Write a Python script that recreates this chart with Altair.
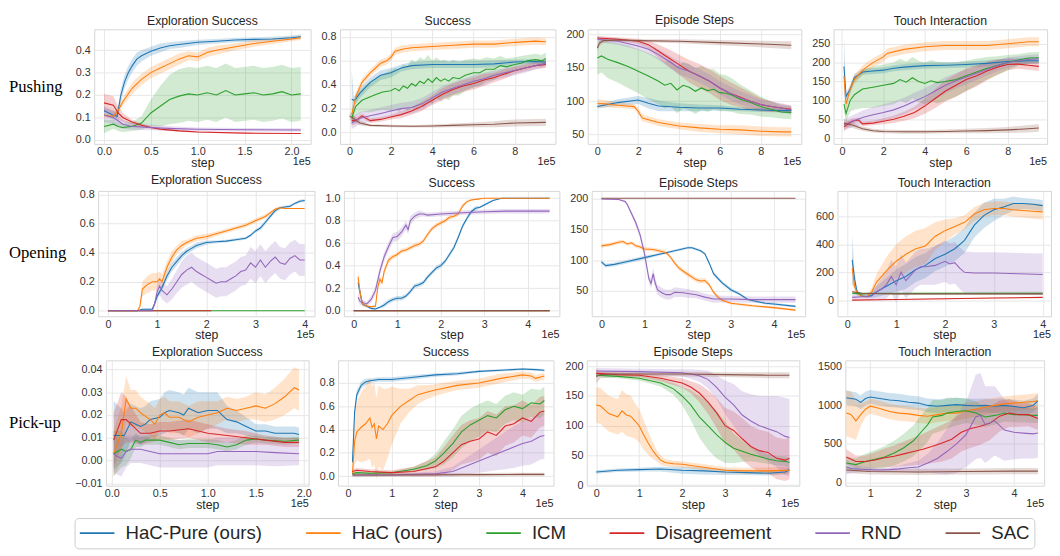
import altair as alt
import pandas as pd

METHODS = ["HaC-Pure (ours)", "HaC (ours)", "ICM", "Disagreement", "RND", "SAC"]
COLORS = ["#1f77b4", "#ff7f0e", "#2ca02c", "#d62728", "#9467bd", "#8c564b"]
KEYS = ["pure", "hac", "icm", "dis", "rnd", "sac"]
ROWS = ["Pushing", "Opening", "Pick-up"]

# ---------------- Pushing ----------------
PUSH_EXP = {
    "pure": dict(x=[0, 0.05, 0.1, 0.14, 0.18, 0.22, 0.26, 0.3, 0.35, 0.4, 0.5, 0.6, 0.7, 0.8, 1.0, 1.2, 1.4, 1.6, 1.8, 2.0, 2.1],
                 y=[0.13, 0.12, 0.11, 0.105, 0.2, 0.26, 0.3, 0.33, 0.36, 0.375, 0.395, 0.41, 0.42, 0.425, 0.435, 0.44, 0.445, 0.448, 0.45, 0.455, 0.46],
                 e=[0.02, 0.02, 0.02, 0.02, 0.03, 0.03, 0.03, 0.03, 0.03, 0.025, 0.02, 0.02, 0.015, 0.015, 0.012, 0.01, 0.01, 0.01, 0.01, 0.01, 0.01]),
    "hac": dict(x=[0, 0.1, 0.15, 0.2, 0.3, 0.4, 0.5, 0.6, 0.7, 0.8, 0.9, 1.0, 1.1, 1.2, 1.4, 1.6, 1.8, 2.0, 2.1],
                y=[0.11, 0.105, 0.13, 0.17, 0.23, 0.27, 0.3, 0.32, 0.34, 0.36, 0.375, 0.37, 0.39, 0.40, 0.415, 0.43, 0.44, 0.45, 0.455],
                e=[0.01, 0.01, 0.02, 0.02, 0.025, 0.025, 0.025, 0.025, 0.025, 0.025, 0.02, 0.02, 0.02, 0.02, 0.015, 0.015, 0.012, 0.01, 0.01]),
    "icm": dict(x=[0, 0.1, 0.15, 0.2, 0.3, 0.4, 0.5, 0.6, 0.7, 0.8, 0.9, 1.0, 1.1, 1.2, 1.3, 1.4, 1.5, 1.6, 1.7, 1.8, 1.9, 2.0, 2.1],
                y=[0.06, 0.07, 0.06, 0.055, 0.06, 0.075, 0.12, 0.15, 0.18, 0.195, 0.205, 0.2, 0.21, 0.2, 0.22, 0.2, 0.205, 0.21, 0.2, 0.205, 0.215, 0.2, 0.205],
                e=[0.03, 0.02, 0.02, 0.02, 0.02, 0.03, 0.06, 0.09, 0.11, 0.12, 0.12, 0.12, 0.12, 0.12, 0.12, 0.12, 0.12, 0.12, 0.12, 0.12, 0.12, 0.12, 0.12]),
    "dis": dict(x=[0, 0.1, 0.15, 0.2, 0.3, 0.4, 0.5, 0.6, 0.8, 1.0, 1.5, 2.1],
                y=[0.165, 0.155, 0.12, 0.1, 0.08, 0.065, 0.055, 0.048, 0.04, 0.035, 0.03, 0.028],
                e=[0.04, 0.04, 0.03, 0.02, 0.01, 0.008, 0.006, 0.005, 0.004, 0.003, 0.002, 0.002]),
    "rnd": dict(x=[0, 0.1, 0.15, 0.2, 0.3, 0.5, 0.75, 1.0, 1.5, 2.1],
                y=[0.11, 0.1, 0.085, 0.07, 0.06, 0.055, 0.05, 0.047, 0.045, 0.044],
                e=[0.03, 0.03, 0.025, 0.02, 0.015, 0.012, 0.01, 0.008, 0.008, 0.008]),
}

PUSH_SUC = {
    "pure": dict(x=[0.1, 0.2, 0.3, 0.5, 1.0, 1.5, 2.0, 2.5, 3.0, 4.0, 5.0, 6.0, 7.0, 8.0, 9.0, 9.5],
                 y=[0.28, 0.27, 0.28, 0.33, 0.42, 0.48, 0.5, 0.54, 0.56, 0.57, 0.57, 0.57, 0.575, 0.59, 0.595, 0.59],
                 e=[0.25, 0.03, 0.04, 0.04, 0.04, 0.04, 0.04, 0.03, 0.03, 0.03, 0.03, 0.03, 0.03, 0.02, 0.02, 0.02]),
    "hac": dict(x=[0.1, 0.2, 0.3, 0.6, 1.0, 1.5, 1.8, 2.0, 2.2, 2.6, 3.0, 4.0, 5.0, 6.0, 7.0, 8.0, 9.0, 9.5],
                y=[0.15, 0.22, 0.3, 0.42, 0.5, 0.58, 0.6, 0.63, 0.68, 0.7, 0.71, 0.72, 0.73, 0.74, 0.74, 0.755, 0.765, 0.76],
                e=[0.05, 0.05, 0.04, 0.03, 0.03, 0.03, 0.03, 0.03, 0.03, 0.03, 0.03, 0.03, 0.03, 0.03, 0.03, 0.03, 0.03, 0.03]),
    "icm": dict(x=[0.1, 0.3, 0.6, 1.0, 1.3, 1.6, 2.0, 2.2, 2.4, 2.6, 2.8, 3.0, 3.2, 3.4, 3.6, 3.8, 4.0, 4.2, 4.4, 4.6, 4.8, 5.0, 5.3, 5.6, 6.0, 6.3, 6.6, 7.0, 7.3, 7.6, 8.0, 8.3, 8.6, 9.0, 9.3, 9.5],
                y=[0.12, 0.22, 0.27, 0.3, 0.32, 0.34, 0.35, 0.37, 0.35, 0.39, 0.37, 0.41, 0.39, 0.43, 0.41, 0.45, 0.42, 0.46, 0.43, 0.45, 0.43, 0.46, 0.45, 0.48, 0.5, 0.5, 0.53, 0.53, 0.56, 0.55, 0.57, 0.58, 0.6, 0.61, 0.6, 0.62],
                e=[0.05, 0.08, 0.1, 0.13, 0.14, 0.15, 0.17, 0.17, 0.18, 0.18, 0.19, 0.2, 0.2, 0.2, 0.2, 0.2, 0.18, 0.17, 0.17, 0.16, 0.16, 0.15, 0.14, 0.13, 0.12, 0.11, 0.1, 0.09, 0.08, 0.07, 0.06, 0.06, 0.05, 0.05, 0.05, 0.05]),
    "dis": dict(x=[0.1, 0.3, 0.6, 1.0, 1.5, 2.0, 2.5, 3.0, 3.5, 4.0, 4.5, 5.0, 5.5, 6.0, 6.5, 7.0, 7.5, 8.0, 8.5, 9.0, 9.5],
                y=[0.1, 0.1, 0.14, 0.1, 0.11, 0.13, 0.15, 0.18, 0.22, 0.27, 0.32, 0.36, 0.39, 0.41, 0.44, 0.46, 0.49, 0.52, 0.54, 0.56, 0.57],
                e=[0.04, 0.03, 0.02, 0.02, 0.02, 0.02, 0.03, 0.03, 0.04, 0.04, 0.05, 0.05, 0.05, 0.05, 0.05, 0.04, 0.04, 0.03, 0.03, 0.03, 0.03]),
    "rnd": dict(x=[0.1, 0.5, 1.0, 1.5, 2.0, 2.5, 3.0, 3.5, 4.0, 4.5, 5.0, 5.5, 6.0, 6.5, 7.0, 7.5, 8.0, 8.5, 9.0, 9.5],
                y=[0.08, 0.12, 0.14, 0.16, 0.18, 0.2, 0.21, 0.24, 0.29, 0.34, 0.37, 0.4, 0.43, 0.45, 0.48, 0.5, 0.52, 0.54, 0.56, 0.58],
                e=[0.05, 0.05, 0.05, 0.05, 0.05, 0.05, 0.05, 0.05, 0.05, 0.05, 0.05, 0.05, 0.05, 0.05, 0.04, 0.04, 0.04, 0.04, 0.03, 0.03]),
    "sac": dict(x=[0, 0.5, 1.0, 2.0, 3.0, 4.0, 5.0, 6.0, 7.0, 8.0, 9.5],
                y=[0.14, 0.08, 0.06, 0.055, 0.052, 0.055, 0.06, 0.065, 0.07, 0.08, 0.085],
                e=[0.03, 0.02, 0.01, 0.01, 0.01, 0.012, 0.015, 0.02, 0.025, 0.03, 0.03]),
}

PUSH_STEPS = {
    "pure": dict(x=[0, 0.5, 1, 2, 2.5, 3, 4, 5, 6, 7, 8, 9, 9.5],
                 y=[92, 95, 98, 102, 97, 93, 91, 90, 90, 88, 87, 86, 86],
                 e=[3, 4, 5, 6, 8, 8, 6, 5, 4, 3, 3, 3, 3]),
    "hac": dict(x=[0, 0.5, 1, 1.8, 2.0, 2.2, 3, 4, 5, 6, 7, 8, 9, 9.5],
                y=[97, 96, 94, 92, 85, 75, 68, 63, 60, 58, 57, 55, 54, 54],
                e=[6, 5, 4, 4, 5, 5, 5, 5, 6, 6, 7, 7, 7, 7]),
    "icm": dict(x=[0, 0.2, 0.5, 1, 1.5, 2, 2.5, 3, 3.3, 3.6, 3.9, 4.2, 4.5, 4.8, 5.1, 5.4, 5.7, 6, 6.3, 6.6, 7, 7.5, 8, 8.5, 9, 9.5],
                y=[165, 168, 163, 158, 152, 145, 138, 130, 124, 127, 117, 124, 121, 115, 120, 116, 118, 113, 112, 109, 103, 98, 92, 88, 84, 83],
                e=[25, 25, 28, 30, 32, 33, 35, 35, 35, 35, 35, 35, 35, 34, 33, 32, 30, 28, 27, 25, 22, 18, 15, 12, 10, 10]),
    "dis": dict(x=[0, 1, 2, 2.5, 3, 3.5, 4, 4.5, 5, 5.5, 6, 6.5, 7, 7.5, 8, 8.5, 9, 9.5],
                y=[195, 193, 190, 185, 175, 165, 155, 145, 138, 130, 120, 112, 106, 100, 95, 92, 90, 88],
                e=[3, 3, 4, 6, 10, 13, 15, 17, 18, 18, 18, 17, 15, 13, 10, 8, 6, 5]),
    "rnd": dict(x=[0, 1, 2, 2.5, 3, 3.5, 4, 4.5, 5, 5.5, 6, 6.5, 7, 7.5, 8, 9, 9.5],
                y=[193, 190, 183, 178, 170, 160, 150, 145, 138, 130, 120, 112, 105, 100, 95, 90, 87],
                e=[4, 5, 6, 7, 8, 9, 10, 10, 10, 10, 10, 10, 10, 9, 8, 7, 7]),
    "sac": dict(x=[0, 0.1, 0.3, 1.0, 2.0, 4.0, 6.0, 8.0, 9.5],
                y=[180, 187, 191, 192, 191, 190, 188, 186, 184],
                e=[5, 4, 3, 2, 2, 3, 4, 5, 6]),
}

PUSH_TOUCH = {
    "pure": dict(x=[0.1, 0.2, 0.4, 0.6, 1.0, 1.5, 2, 2.5, 3, 4, 5, 6, 7, 8, 9, 9.5],
                 y=[190, 110, 130, 160, 175, 178, 180, 185, 188, 192, 193, 195, 198, 203, 205, 205],
                 e=[80, 10, 10, 10, 8, 8, 8, 8, 8, 8, 8, 8, 8, 8, 8, 8]),
    "hac": dict(x=[0.1, 0.2, 0.4, 0.6, 1.0, 1.5, 2.0, 2.2, 3, 4, 5, 6, 7, 8, 9, 9.5],
                y=[165, 90, 130, 155, 180, 200, 215, 225, 235, 242, 245, 245, 245, 250, 255, 255],
                e=[20, 15, 12, 12, 12, 12, 12, 12, 12, 12, 12, 12, 12, 12, 12, 12]),
    "icm": dict(x=[0.1, 0.2, 0.4, 0.6, 1.0, 1.5, 2.0, 2.5, 2.8, 3.1, 3.4, 3.7, 4.0, 4.3, 4.6, 5.0, 5.5, 6, 6.5, 7, 7.5, 8, 8.5, 9, 9.5],
                y=[90, 65, 100, 115, 130, 135, 140, 145, 155, 148, 160, 150, 145, 152, 147, 150, 155, 165, 175, 185, 192, 200, 207, 212, 213],
                e=[20, 20, 30, 40, 50, 55, 55, 55, 55, 55, 55, 55, 55, 55, 55, 50, 45, 40, 35, 30, 25, 20, 15, 15, 15]),
    "dis": dict(x=[0.1, 0.5, 0.8, 1.0, 1.5, 2.0, 2.5, 3, 3.5, 4, 4.5, 5, 5.5, 6, 6.5, 7, 7.5, 8, 8.5, 9, 9.5],
                y=[30, 45, 48, 38, 40, 45, 50, 58, 68, 85, 105, 125, 140, 155, 165, 178, 188, 195, 196, 193, 190],
                e=[10, 8, 6, 6, 6, 8, 10, 12, 15, 20, 25, 28, 30, 30, 28, 25, 20, 15, 12, 12, 12]),
    "rnd": dict(x=[0.1, 0.5, 1, 1.5, 2, 2.5, 3, 3.5, 4, 4.5, 5, 5.5, 6, 6.5, 7, 7.5, 8, 8.5, 9, 9.5],
                y=[35, 45, 55, 62, 68, 75, 85, 98, 110, 125, 140, 152, 162, 172, 182, 192, 200, 205, 208, 210],
                e=[15, 15, 18, 20, 22, 22, 22, 22, 22, 22, 22, 20, 20, 18, 16, 15, 14, 12, 12, 12]),
    "sac": dict(x=[0.1, 0.5, 1.0, 1.5, 2, 3, 4, 5, 6, 7, 8, 9, 9.5],
                y=[40, 35, 25, 20, 18, 17, 17, 18, 19, 20, 22, 25, 27],
                e=[10, 8, 6, 5, 5, 5, 5, 5, 6, 7, 8, 10, 10]),
}

# ---------------- Opening ----------------
OPEN_EXP = {
    "pure": dict(x=[0, 0.6, 0.7, 0.9, 0.95, 1.0, 1.1, 1.2, 1.3, 1.4, 1.5, 1.6, 1.7, 1.8, 2.0, 2.2, 2.4, 2.6, 2.8, 2.9, 3.0, 3.1, 3.2, 3.3, 3.4, 3.5, 3.6, 3.7, 3.8, 3.9, 4.0],
                 y=[0, 0, 0.01, 0.01, 0.05, 0.1, 0.16, 0.24, 0.3, 0.34, 0.38, 0.41, 0.43, 0.45, 0.47, 0.475, 0.48, 0.49, 0.5, 0.52, 0.55, 0.57, 0.61, 0.65, 0.69, 0.71, 0.715, 0.72, 0.74, 0.755, 0.76],
                 e=[0, 0, 0.005, 0.005, 0.01, 0.02, 0.02, 0.03, 0.03, 0.03, 0.025, 0.02, 0.02, 0.02, 0.015, 0.01, 0.01, 0.01, 0.01, 0.01, 0.01, 0.015, 0.015, 0.015, 0.015, 0.01, 0.01, 0.01, 0.01, 0.01, 0.01]),
    "hac": dict(x=[0, 0.6, 0.65, 0.7, 0.8, 0.9, 1.0, 1.05, 1.1, 1.2, 1.3, 1.4, 1.5, 1.6, 1.8, 2.0, 2.2, 2.4, 2.6, 2.8, 3.0, 3.2, 3.4, 3.5, 3.6, 4.0],
                y=[0, 0, 0.03, 0.15, 0.18, 0.2, 0.2, 0.22, 0.2, 0.3, 0.37, 0.42, 0.45, 0.47, 0.5, 0.51, 0.53, 0.55, 0.57, 0.59, 0.62, 0.65, 0.7, 0.71, 0.705, 0.705],
                e=[0, 0, 0.02, 0.05, 0.06, 0.06, 0.06, 0.05, 0.05, 0.04, 0.04, 0.03, 0.03, 0.02, 0.02, 0.02, 0.015, 0.015, 0.015, 0.015, 0.015, 0.015, 0.01, 0.005, 0, 0]),
    "icm": dict(x=[0, 4.0], y=[0, 0], e=[0, 0]),
    "dis": dict(x=[0, 2.1], y=[0, 0], e=[0, 0]),
    "rnd": dict(x=[0, 0.9, 0.95, 1.0, 1.05, 1.1, 1.2, 1.3, 1.4, 1.5, 1.6, 1.7, 1.8, 1.9, 2.0, 2.1, 2.2, 2.3, 2.4, 2.5, 2.6, 2.7, 2.8, 2.9, 3.0, 3.1, 3.2, 3.3, 3.4, 3.5, 3.6, 3.7, 3.8, 3.9, 4.0],
                y=[0, 0, 0.05, 0.13, 0.17, 0.14, 0.11, 0.15, 0.2, 0.25, 0.28, 0.3, 0.27, 0.25, 0.23, 0.21, 0.19, 0.2, 0.2, 0.22, 0.24, 0.27, 0.28, 0.33, 0.3, 0.35, 0.3, 0.34, 0.37, 0.33, 0.32, 0.36, 0.38, 0.35, 0.35],
                e=[0, 0, 0.02, 0.04, 0.06, 0.06, 0.06, 0.07, 0.08, 0.09, 0.1, 0.1, 0.1, 0.1, 0.1, 0.1, 0.1, 0.1, 0.1, 0.1, 0.1, 0.1, 0.1, 0.11, 0.11, 0.11, 0.11, 0.11, 0.11, 0.11, 0.11, 0.11, 0.11, 0.11, 0.11]),
}

OPEN_SUC = {
    "pure": dict(x=[0.1, 0.2, 0.3, 0.4, 0.5, 0.6, 0.7, 0.8, 0.9, 1.0, 1.1, 1.2, 1.3, 1.4, 1.5, 1.6, 1.7, 1.8, 1.9, 2.0, 2.1, 2.2, 2.3, 2.4, 2.5, 2.6, 2.7, 2.8, 2.9, 3.0, 3.1, 3.2, 3.4, 4.5],
                 y=[0.25, 0.06, 0.04, 0.02, 0.015, 0.03, 0.05, 0.08, 0.1, 0.11, 0.11, 0.13, 0.17, 0.22, 0.23, 0.25, 0.3, 0.34, 0.38, 0.4, 0.44, 0.5, 0.56, 0.65, 0.75, 0.82, 0.88, 0.91, 0.92, 0.94, 0.96, 0.98, 1.0, 1.0],
                 e=[0.05, 0.02, 0.01, 0.01, 0.01, 0.01, 0.02, 0.02, 0.02, 0.02, 0.02, 0.02, 0.02, 0.02, 0.02, 0.02, 0.02, 0.02, 0.02, 0.02, 0.02, 0.02, 0.02, 0.02, 0.02, 0.02, 0.02, 0.02, 0.01, 0.01, 0.01, 0.005, 0, 0]),
    "hac": dict(x=[0.1, 0.15, 0.2, 0.3, 0.4, 0.5, 0.55, 0.6, 0.65, 0.7, 0.8, 0.9, 1.0, 1.1, 1.2, 1.3, 1.4, 1.5, 1.6, 1.7, 1.8, 1.9, 2.0, 2.1, 2.2, 2.3, 2.4, 2.5, 2.6, 2.7, 2.8, 3.0, 4.5],
                y=[0.3, 0.15, 0.06, 0.04, 0.035, 0.04, 0.2, 0.28, 0.25, 0.35, 0.45, 0.48, 0.5, 0.53, 0.54, 0.56, 0.58, 0.59, 0.62, 0.68, 0.73, 0.76, 0.78, 0.8, 0.83, 0.84, 0.86, 0.93, 0.97, 0.985, 0.99, 1.0, 1.0],
                e=[0.06, 0.03, 0.02, 0.01, 0.01, 0.01, 0.02, 0.03, 0.03, 0.03, 0.03, 0.02, 0.02, 0.02, 0.02, 0.02, 0.02, 0.02, 0.02, 0.02, 0.02, 0.02, 0.02, 0.02, 0.02, 0.02, 0.02, 0.02, 0.01, 0.01, 0.005, 0, 0]),
    "icm": dict(x=[0, 4.5], y=[0, 0], e=[0, 0]),
    "dis": dict(x=[0, 4.5], y=[0, 0], e=[0, 0]),
    "rnd": dict(x=[0.1, 0.15, 0.3, 0.4, 0.5, 0.6, 0.7, 0.8, 0.9, 1.0, 1.1, 1.2, 1.25, 1.3, 1.4, 1.5, 1.6, 1.7, 2.0, 2.5, 3.0, 3.5, 4.0, 4.5],
                y=[0.12, 0.08, 0.06, 0.1, 0.18, 0.35, 0.48, 0.57, 0.65, 0.66, 0.7, 0.76, 0.72, 0.8, 0.84, 0.86, 0.86, 0.85, 0.86, 0.87, 0.88, 0.885, 0.885, 0.885],
                e=[0.04, 0.03, 0.02, 0.03, 0.04, 0.04, 0.04, 0.04, 0.04, 0.04, 0.04, 0.04, 0.04, 0.04, 0.03, 0.03, 0.02, 0.02, 0.02, 0.02, 0.02, 0.02, 0.02, 0.02]),
    "sac": dict(x=[0, 4.5], y=[0, 0], e=[0, 0]),
}

OPEN_STEPS = {
    "pure": dict(x=[0, 0.1, 0.3, 0.5, 1.0, 1.5, 2.0, 2.1, 2.3, 2.4, 2.5, 2.6, 2.8, 3.0, 3.2, 3.4, 3.6, 3.8, 4.0, 4.5],
                 y=[97, 91, 93, 96, 104, 112, 120, 120, 115, 110, 95, 78, 63, 52, 45, 36, 33, 30, 29, 25],
                 e=[3, 3, 3, 3, 3, 2, 2, 2, 2, 2, 3, 3, 3, 3, 2, 2, 2, 2, 2, 2]),
    "hac": dict(x=[0, 0.2, 0.4, 0.5, 0.6, 0.7, 0.8, 0.9, 1.0, 1.2, 1.4, 1.5, 1.6, 1.7, 1.8, 1.9, 2.0, 2.2, 2.3, 2.4, 2.5, 2.6, 2.7, 2.8, 3.0, 3.5, 4.0, 4.5],
                y=[123, 125, 129, 130, 126, 128, 123, 121, 118, 117, 114, 112, 105, 95, 87, 82, 77, 68, 66, 67, 60, 48, 40, 35, 30, 26, 23, 19],
                e=[3, 3, 3, 3, 3, 3, 3, 3, 3, 3, 3, 3, 3, 3, 4, 4, 4, 4, 4, 4, 3, 3, 3, 3, 2, 2, 2, 2]),
    "rnd": dict(x=[0, 0.4, 0.55, 0.6, 0.7, 0.8, 0.9, 1.0, 1.05, 1.1, 1.15, 1.2, 1.25, 1.3, 1.4, 1.5, 1.6, 1.7, 1.9, 2.0, 2.2, 2.4, 2.6, 3.0, 3.5, 4.0, 4.5],
                y=[199, 198, 195, 190, 175, 160, 140, 110, 90, 70, 62, 78, 62, 52, 47, 44, 44, 48, 47, 46, 44, 40, 37, 37, 36, 36, 36],
                e=[1, 1, 2, 3, 4, 5, 6, 6, 6, 6, 8, 10, 8, 8, 8, 8, 8, 8, 7, 7, 6, 6, 6, 5, 5, 5, 5]),
    "sac": dict(x=[0, 4.5], y=[200, 200], e=[0, 0]),
}

OPEN_TOUCH = {
    "pure": dict(x=[0.1, 0.15, 0.2, 0.3, 0.4, 0.5, 0.6, 0.8, 1.0, 1.2, 1.4, 1.6, 1.8, 2.0, 2.2, 2.4, 2.6, 2.8, 3.0, 3.2, 3.4, 3.6, 3.8, 4.0],
                 y=[290, 150, 60, 30, 25, 35, 60, 100, 140, 170, 220, 250, 300, 330, 370, 430, 540, 610, 650, 670, 695, 695, 690, 680],
                 e=[180, 60, 20, 10, 10, 20, 40, 60, 80, 90, 90, 90, 90, 90, 90, 90, 90, 90, 80, 60, 50, 40, 40, 40]),
    "hac": dict(x=[0.1, 0.15, 0.2, 0.3, 0.4, 0.5, 0.6, 0.8, 1.0, 1.2, 1.4, 1.6, 1.8, 2.0, 2.2, 2.4, 2.6, 2.8, 3.0, 3.2, 3.4, 3.6, 3.8, 4.0],
                y=[230, 100, 50, 30, 25, 60, 130, 210, 280, 330, 370, 390, 460, 500, 530, 560, 620, 650, 660, 660, 650, 645, 640, 635],
                e=[100, 40, 20, 10, 10, 30, 60, 100, 120, 130, 130, 130, 100, 80, 60, 50, 50, 50, 50, 50, 50, 50, 55, 55]),
    "icm": dict(x=[0.1, 0.3, 0.5, 4.0], y=[50, 45, 48, 50], e=[10, 10, 10, 10]),
    "dis": dict(x=[0.1, 1.0, 2.0, 3.0, 4.0], y=[0, 5, 10, 15, 20], e=[0, 2, 3, 3, 3]),
    "rnd": dict(x=[0.1, 0.3, 0.5, 0.6, 0.7, 0.8, 0.9, 1.0, 1.1, 1.2, 1.3, 1.4, 1.5, 1.6, 1.8, 2.0, 2.1, 2.2, 2.3, 2.4, 2.6, 3.0, 3.5, 4.0],
                y=[20, 25, 30, 60, 80, 110, 170, 110, 200, 140, 180, 220, 240, 240, 250, 280, 260, 270, 230, 200, 195, 195, 190, 185],
                e=[20, 20, 30, 50, 80, 100, 120, 130, 130, 130, 130, 130, 130, 130, 140, 150, 150, 150, 150, 150, 150, 150, 150, 150]),
    "sac": dict(x=[0.1, 0.3, 1.0, 4.0], y=[60, 50, 45, 45], e=[5, 5, 5, 5]),
}

# ---------------- Pick-up ----------------
PICK_EXP = {
    "pure": dict(x=[0.02, 0.1, 0.13, 0.2, 0.25, 0.3, 0.35, 0.4, 0.5, 0.55, 0.6, 0.7, 0.75, 0.8, 0.85, 0.9, 1.0, 1.1, 1.15, 1.2, 1.3, 1.4, 1.5, 1.6, 1.7, 1.8, 1.9, 1.95],
                 y=[0.011, 0.011, 0.011, 0.017, 0.016, 0.015, 0.016, 0.018, 0.019, 0.021, 0.022, 0.021, 0.02, 0.023, 0.022, 0.021, 0.022, 0.022, 0.02, 0.018, 0.017, 0.015, 0.013, 0.013, 0.012, 0.012, 0.012, 0.0115],
                 e=[0.015, 0.012, 0.01, 0.008, 0.008, 0.008, 0.008, 0.008, 0.008, 0.009, 0.009, 0.009, 0.009, 0.009, 0.009, 0.009, 0.008, 0.008, 0.007, 0.006, 0.005, 0.004, 0.003, 0.003, 0.003, 0.003, 0.003, 0.003]),
    "hac": dict(x=[0.02, 0.1, 0.15, 0.2, 0.25, 0.3, 0.4, 0.45, 0.5, 0.55, 0.6, 0.7, 0.8, 0.9, 1.0, 1.1, 1.2, 1.3, 1.4, 1.5, 1.6, 1.7, 1.8, 1.9, 1.95],
                y=[0.003, 0.012, 0.027, 0.023, 0.023, 0.021, 0.018, 0.016, 0.02, 0.021, 0.019, 0.019, 0.017, 0.019, 0.02, 0.021, 0.023, 0.022, 0.023, 0.024, 0.023, 0.025, 0.028, 0.032, 0.031],
                e=[0.01, 0.012, 0.01, 0.008, 0.008, 0.007, 0.007, 0.007, 0.007, 0.007, 0.007, 0.007, 0.007, 0.007, 0.006, 0.005, 0.005, 0.005, 0.005, 0.006, 0.006, 0.007, 0.008, 0.009, 0.009]),
    "icm": dict(x=[0.02, 0.1, 0.15, 0.2, 0.25, 0.3, 0.35, 0.4, 0.5, 0.6, 0.7, 0.8, 1.0, 1.1, 1.2, 1.3, 1.4, 1.5, 1.6, 1.8, 1.95],
                y=[0.003, 0.005, 0.004, 0.005, 0.009, 0.008, 0.009, 0.009, 0.009, 0.008, 0.007, 0.0075, 0.0075, 0.007, 0.006, 0.007, 0.009, 0.0095, 0.009, 0.0085, 0.009],
                e=[0.01, 0.008, 0.006, 0.004, 0.003, 0.002, 0.002, 0.002, 0.002, 0.002, 0.002, 0.002, 0.002, 0.002, 0.002, 0.002, 0.002, 0.0015, 0.0015, 0.0015, 0.0015]),
    "dis": dict(x=[0.02, 0.1, 0.15, 0.2, 0.3, 0.4, 0.5, 0.6, 0.8, 0.9, 1.0, 1.2, 1.4, 1.6, 1.8, 1.95],
                y=[0.009, 0.018, 0.018, 0.016, 0.012, 0.012, 0.013, 0.013, 0.014, 0.013, 0.012, 0.011, 0.01, 0.009, 0.008, 0.008],
                e=[0.012, 0.012, 0.01, 0.008, 0.005, 0.004, 0.004, 0.004, 0.004, 0.004, 0.004, 0.003, 0.003, 0.002, 0.002, 0.002]),
    "rnd": dict(x=[0.02, 0.05, 0.1, 0.15, 0.2, 0.3, 0.4, 0.5, 0.7, 0.9, 1.0, 1.1, 1.3, 1.5, 1.7, 1.95],
                y=[0.003, 0.002, 0.001, 0.004, 0.005, 0.005, 0.004, 0.003, 0.003, 0.003, 0.003, 0.004, 0.004, 0.004, 0.0035, 0.003],
                e=[0.008, 0.008, 0.008, 0.007, 0.006, 0.006, 0.006, 0.006, 0.006, 0.006, 0.006, 0.006, 0.006, 0.006, 0.006, 0.005]),
}

PICK_SUC = {
    "pure": dict(x=[0.1, 0.15, 0.2, 0.3, 0.4, 0.5, 0.7, 1.0, 1.5, 2.0, 2.5, 3.0, 3.5, 4.0, 4.3, 4.5],
                 y=[0.12, 0.55, 0.7, 0.78, 0.81, 0.82, 0.83, 0.83, 0.85, 0.87, 0.88, 0.9, 0.91, 0.92, 0.915, 0.91],
                 e=[0.05, 0.05, 0.04, 0.03, 0.03, 0.02, 0.02, 0.02, 0.02, 0.015, 0.015, 0.01, 0.01, 0.01, 0.01, 0.01]),
    "hac": dict(x=[0.1, 0.15, 0.2, 0.3, 0.4, 0.5, 0.55, 0.6, 0.65, 0.7, 0.8, 0.9, 1.0, 1.1, 1.2, 1.4, 1.6, 1.8, 2.0, 2.5, 3.0, 3.5, 4.0, 4.2, 4.3, 4.5],
                y=[0.02, 0.3, 0.38, 0.42, 0.45, 0.5, 0.42, 0.45, 0.32, 0.43, 0.4, 0.45, 0.52, 0.56, 0.6, 0.65, 0.7, 0.72, 0.74, 0.78, 0.8, 0.84, 0.87, 0.86, 0.84, 0.86],
                e=[0.02, 0.2, 0.25, 0.3, 0.32, 0.35, 0.35, 0.35, 0.35, 0.35, 0.35, 0.3, 0.25, 0.2, 0.15, 0.1, 0.08, 0.06, 0.05, 0.04, 0.04, 0.04, 0.03, 0.03, 0.03, 0.03]),
    "icm": dict(x=[0.1, 0.2, 0.5, 1.0, 1.5, 1.8, 2.0, 2.2, 2.4, 2.6, 2.8, 3.0, 3.2, 3.4, 3.6, 3.8, 4.0, 4.2, 4.4, 4.5],
                y=[0.02, 0.03, 0.025, 0.03, 0.06, 0.09, 0.13, 0.2, 0.28, 0.38, 0.44, 0.48, 0.52, 0.5, 0.57, 0.6, 0.58, 0.63, 0.62, 0.65],
                e=[0.01, 0.01, 0.01, 0.01, 0.02, 0.04, 0.06, 0.1, 0.12, 0.14, 0.14, 0.14, 0.13, 0.12, 0.12, 0.12, 0.12, 0.12, 0.12, 0.12]),
    "dis": dict(x=[0.1, 0.2, 0.5, 1.0, 1.5, 2.0, 2.2, 2.4, 2.6, 2.8, 3.0, 3.2, 3.4, 3.6, 3.8, 4.0, 4.2, 4.4, 4.5],
                y=[0.04, 0.05, 0.04, 0.03, 0.04, 0.08, 0.13, 0.2, 0.27, 0.3, 0.32, 0.38, 0.35, 0.43, 0.45, 0.5, 0.47, 0.55, 0.56],
                e=[0.02, 0.02, 0.02, 0.02, 0.04, 0.08, 0.12, 0.15, 0.17, 0.18, 0.18, 0.18, 0.18, 0.17, 0.16, 0.15, 0.14, 0.13, 0.13]),
    "rnd": dict(x=[0.1, 1.0, 2.0, 2.4, 2.6, 2.8, 3.0, 3.2, 3.4, 3.6, 3.8, 4.0, 4.2, 4.4, 4.5],
                y=[0.01, 0.01, 0.02, 0.04, 0.07, 0.1, 0.13, 0.16, 0.19, 0.22, 0.25, 0.28, 0.3, 0.34, 0.35],
                e=[0.01, 0.01, 0.02, 0.04, 0.06, 0.08, 0.1, 0.12, 0.14, 0.16, 0.18, 0.19, 0.2, 0.2, 0.2]),
    "sac": dict(x=[0.1, 1.0, 2.0, 3.0, 4.0, 4.5], y=[0.01, 0.01, 0.012, 0.013, 0.015, 0.015],
                e=[0.02, 0.015, 0.015, 0.015, 0.015, 0.015]),
}

PICK_STEPS = {
    "pure": dict(x=[0, 0.5, 1.0, 1.5, 2.0, 2.5, 3.0, 3.5, 4.0, 4.4, 4.5],
                 y=[22, 25, 26, 27, 25, 24, 22, 21, 20, 22, 26],
                 e=[3, 3, 3, 4, 6, 6, 5, 4, 4, 4, 4]),
    "hac": dict(x=[0, 0.1, 0.3, 0.5, 0.6, 0.7, 0.8, 0.9, 1.0, 1.1, 1.2, 1.3, 1.4, 1.5, 1.6, 1.8, 2.0, 2.5, 3.0, 3.5, 4.0, 4.5],
                y=[135, 133, 120, 115, 125, 118, 116, 108, 100, 85, 72, 60, 50, 42, 38, 36, 35, 30, 25, 24, 24, 25],
                e=[30, 30, 30, 30, 35, 35, 35, 30, 28, 25, 20, 15, 10, 8, 6, 5, 5, 5, 5, 5, 6, 6]),
    "icm": dict(x=[0, 0.5, 1.0, 1.5, 1.8, 2.0, 2.2, 2.4, 2.6, 2.8, 3.0, 3.2, 3.4, 3.6, 3.8, 4.0, 4.2, 4.4, 4.5],
                y=[185, 183, 180, 172, 162, 150, 135, 115, 100, 85, 72, 62, 57, 52, 48, 44, 41, 40, 38],
                e=[3, 3, 4, 6, 10, 15, 25, 35, 40, 40, 35, 25, 18, 12, 10, 8, 8, 8, 8]),
    "dis": dict(x=[0, 0.5, 1.0, 1.5, 2.0, 2.2, 2.4, 2.6, 2.8, 3.0, 3.2, 3.4, 3.6, 3.8, 4.0, 4.2, 4.4, 4.5],
                y=[188, 186, 185, 180, 172, 165, 155, 140, 122, 100, 92, 78, 65, 58, 55, 45, 42, 45],
                e=[3, 3, 3, 5, 8, 10, 15, 20, 25, 30, 32, 35, 35, 35, 35, 35, 35, 35]),
    "rnd": dict(x=[0, 1, 2, 2.2, 2.4, 2.6, 2.8, 3.0, 3.2, 3.4, 3.6, 3.8, 4.0, 4.2, 4.4, 4.5],
                y=[192, 191, 189, 187, 184, 178, 165, 148, 135, 118, 108, 100, 95, 90, 82, 80],
                e=[5, 5, 6, 8, 10, 15, 20, 28, 35, 40, 45, 50, 55, 60, 65, 65]),
    "sac": dict(x=[0, 0.1, 0.5, 1, 2, 3, 4, 4.5], y=[183, 186, 187, 187, 187, 186, 185, 185],
                e=[12, 6, 5, 4, 4, 4, 5, 5]),
}

PICK_TOUCH = {
    "pure": dict(x=[0.5, 0.7, 0.8, 0.9, 1.0, 1.2, 1.4, 1.6, 1.8, 2.0, 2.2, 2.4, 2.6, 2.8, 3.0, 3.2, 3.4, 3.6, 3.8, 4.0, 4.2, 4.4, 4.5],
                 y=[1100, 1080, 1040, 1090, 1110, 1090, 1070, 1060, 1040, 1030, 1000, 990, 1000, 1010, 1000, 995, 1000, 990, 1000, 985, 970, 1000, 1060],
                 e=[90] * 23),
    "hac": dict(x=[0.5, 0.6, 0.7, 0.8, 0.9, 1.0, 1.2, 1.4, 1.6, 1.8, 2.0, 2.2, 2.4, 2.6, 2.8, 3.0, 3.2, 3.4, 3.6, 3.8, 4.0, 4.2, 4.4, 4.5],
                y=[900, 880, 800, 880, 950, 990, 960, 920, 900, 890, 870, 860, 880, 900, 900, 930, 950, 980, 1000, 1020, 1030, 1040, 1050, 1060],
                e=[300, 300, 250, 150, 100, 100, 100, 100, 100, 100, 100, 100, 100, 100, 100, 100, 100, 100, 100, 100, 100, 100, 100, 100]),
    "icm": dict(x=[0.5, 0.7, 0.9, 1.1, 1.3, 1.5, 1.7, 1.9, 2.1, 2.2, 2.3, 2.5, 2.6, 2.8, 3.0, 3.2, 3.4, 3.6, 3.8, 4.0, 4.2, 4.4, 4.5],
                y=[250, 230, 270, 300, 330, 380, 450, 540, 680, 750, 850, 870, 900, 920, 930, 900, 850, 870, 900, 880, 880, 870, 870],
                e=[80, 80, 100, 120, 140, 160, 180, 200, 220, 220, 220, 200, 200, 180, 160, 150, 130, 120, 110, 100, 100, 100, 100]),
    "dis": dict(x=[0.5, 0.7, 0.9, 1.1, 1.3, 1.5, 1.7, 1.9, 2.1, 2.3, 2.5, 2.7, 2.9, 3.1, 3.3, 3.5, 3.7, 3.9, 4.1, 4.3, 4.5],
                y=[330, 270, 270, 290, 320, 340, 370, 400, 430, 470, 510, 560, 650, 700, 730, 770, 860, 900, 880, 880, 830],
                e=[100, 80, 80, 100, 120, 140, 160, 180, 200, 220, 240, 250, 250, 250, 240, 220, 200, 180, 160, 150, 150]),
    "rnd": dict(x=[0.5, 0.6, 0.8, 1.0, 1.2, 1.4, 1.6, 1.8, 2.0, 2.2, 2.4, 2.6, 2.8, 3.0, 3.2, 3.3, 3.4, 3.6, 3.8, 4.0, 4.2, 4.4, 4.5],
                y=[200, 180, 170, 165, 160, 165, 175, 190, 200, 250, 310, 400, 500, 620, 850, 870, 750, 800, 680, 650, 640, 630, 640],
                e=[100, 60, 40, 30, 30, 30, 40, 60, 80, 120, 200, 300, 380, 420, 550, 550, 500, 450, 400, 350, 330, 320, 320]),
    "sac": dict(x=[0.5, 1.0, 2.0, 3.0, 4.0, 4.5], y=[160, 140, 135, 140, 145, 145], e=[40, 40, 40, 40, 40, 40]),
}

FONT = "Liberation Sans"
SERIF = "Liberation Serif"
ROW_H = [117, 128, 128]
LABEL_W = 53

CSCALE = alt.Scale(domain=METHODS, range=COLORS)
BSCALE = alt.Scale(domain=list(range(len(METHODS))), range=COLORS)
LEGEND = alt.Legend(title=None, orient="none", legendX=67, legendY=499,
                    direction="horizontal", columns=6, symbolType="stroke",
                    symbolSize=1250, symbolStrokeWidth=1.8, labelFontSize=19,
                    labelFont=FONT, labelColor="#262626", columnPadding=43,
                    labelOffset=10, strokeColor="#cccccc", cornerRadius=4,
                    padding=4, clipHeight=23, fillColor="white", labelLimit=300)


def row_label(text, h):
    return alt.Chart(pd.DataFrame({"t": [text]}),
                     view=alt.ViewBackground(stroke="transparent")).mark_text(
        align="left", baseline="middle", font=SERIF, fontSize=17, color="#000000"
    ).encode(x=alt.value(0), y=alt.value(h / 2), text="t:N").properties(width=LABEL_W, height=h)


def panel(data, title, xdom, ydom, xticks, yticks, xfmt, yfmt, w, h, yext):
    rows = []
    for i, k in enumerate(KEYS):
        if k not in data:
            continue
        s = data[k]
        for x, y, e in zip(s["x"], s["y"], s["e"]):
            rows.append({"step": x, "mean": y, "lo": y - e, "hi": y + e,
                         "method": METHODS[i], "ord": i})
    df = pd.DataFrame(rows)
    xenc = alt.X("step:Q", scale=alt.Scale(domain=xdom, nice=False, zero=False),
                 axis=alt.Axis(values=xticks, format=xfmt, title="step", labelFlush=False,
                               labelPadding=2, titlePadding=0, labelOverlap=False))
    yscale = alt.Scale(domain=ydom, nice=False, zero=False)
    yaxis = alt.Axis(values=yticks, format=yfmt, minExtent=yext, maxExtent=yext,
                     labelPadding=4, labelOverlap=False, labelFlush=False, title=None)
    base = alt.Chart(df)
    area = base.mark_area(opacity=0.22, clip=True).encode(
        x=xenc, y=alt.Y("lo:Q", scale=yscale, axis=yaxis), y2="hi:Q",
        fill=alt.Fill("ord:N", scale=BSCALE, legend=None),
        detail="ord:N")
    line = base.mark_line(strokeWidth=1.1, clip=True).encode(
        x=xenc, y=alt.Y("mean:Q", scale=yscale, axis=yaxis),
        color=alt.Color("method:N", scale=CSCALE, legend=LEGEND))
    note = alt.Chart(pd.DataFrame({"t": ["1e5"]})).mark_text(
        align="right", baseline="top", font=FONT, fontSize=11, color="#262626").encode(
        x=alt.value(w), y=alt.value(h + 13), text="t:N")
    return alt.layer(area, line, note).properties(
        width=w, height=h, title=alt.TitleParams(title, font=FONT, fontSize=12.5,
                                                 fontWeight="normal", color="#262626", offset=2))


f1 = ".1f"
h1, h2, h3 = ROW_H
row1 = alt.hconcat(
    row_label(ROWS[0], h1),
    panel(PUSH_EXP, "Exploration Success", [-0.105, 2.205], [-0.018, 0.493],
          [0, 0.5, 1.0, 1.5, 2.0], [0, 0.1, 0.2, 0.3, 0.4], f1, f1, 221, h1, 30),
    panel(PUSH_SUC, "Success", [-0.465, 9.965], [-0.095, 0.864],
          [0, 2, 4, 6, 8], [0, 0.2, 0.4, 0.6, 0.8], "d", f1, 220, h1, 28),
    panel(PUSH_STEPS, "Episode Steps", [-0.47, 9.99], [36, 208],
          [0, 2, 4, 6, 8], [50, 100, 150, 200], "d", "d", 218, h1, 31),
    panel(PUSH_TOUCH, "Touch Interaction", [-0.4, 9.9], [-15, 288],
          [0, 2, 4, 6, 8], [0, 50, 100, 150, 200, 250], "d", "d", 218, h1, 31),
    spacing=0)

row2 = alt.hconcat(
    row_label(ROWS[1], h2),
    panel(OPEN_EXP, "Exploration Success", [-0.2, 4.2], [-0.038, 0.826],
          [0, 1, 2, 3, 4], [0, 0.2, 0.4, 0.6, 0.8], "d", f1, 221, h2, 30),
    panel(OPEN_SUC, "Success", [-0.225, 4.725], [-0.05, 1.065],
          [0, 1, 2, 3, 4], [0, 0.2, 0.4, 0.6, 0.8, 1.0], "d", f1, 220, h2, 28),
    panel(OPEN_STEPS, "Episode Steps", [-0.225, 4.725], [9, 212],
          [0, 1, 2, 3, 4], [50, 100, 150, 200], "d", "d", 218, h2, 31),
    panel(OPEN_TOUCH, "Touch Interaction", [-0.2, 4.17], [-116, 786],
          [0, 1, 2, 3, 4], [0, 200, 400, 600], "d", "d", 218, h2, 31),
    spacing=0)

row3 = alt.hconcat(
    row_label(ROWS[2], h3),
    panel(PICK_EXP, "Exploration Success", [-0.06, 2.05], [-0.011, 0.044],
          [0, 0.5, 1.0, 1.5, 2.0], [-0.01, 0, 0.01, 0.02, 0.03, 0.04], f1, ".2f", 207, h3, 44),
    panel(PICK_SUC, "Success", [-0.23, 4.71], [-0.082, 0.995],
          [0, 1, 2, 3, 4], [0, 0.2, 0.4, 0.6, 0.8], "d", f1, 220, h3, 25),
    panel(PICK_STEPS, "Episode Steps", [-0.22, 4.73], [-1, 210],
          [0, 1, 2, 3, 4], [0, 50, 100, 150, 200], "d", "d", 217, h3, 32),
    panel(PICK_TOUCH, "Touch Interaction", [0.48, 4.63], [-44, 1586],
          [1, 2, 3, 4], [0, 500, 1000, 1500], "d", "d", 203, h3, 45),
    spacing=0)

chart = alt.vconcat(row1, row2, row3, spacing=4).properties(
    padding={"left": 0, "top": 0, "right": 0, "bottom": 0}
).configure(background="white").configure_view(
    stroke="#d6d6d6", strokeWidth=1
).configure_axis(
    gridColor="#e6e6e6", gridWidth=1, domain=False, ticks=False, labelOverlap=False,
    labelFont=FONT, labelFontSize=11, labelColor="#333333",
    titleFont=FONT, titleFontSize=12.5, titleFontWeight="normal", titleColor="#262626"
)

chart.save("out.html", embed_options={"renderer": "svg", "actions": False})
